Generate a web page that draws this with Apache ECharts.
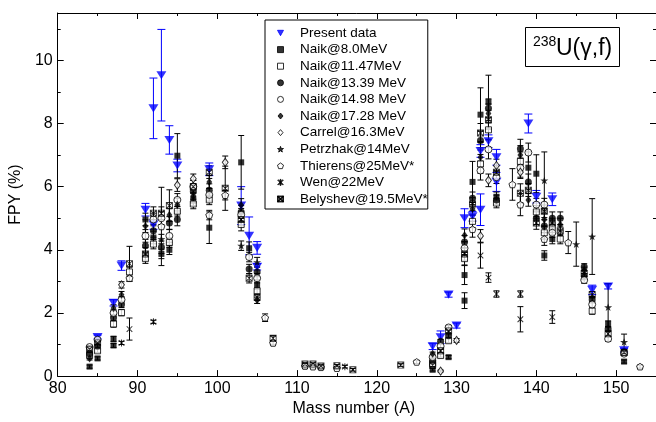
<!DOCTYPE html>
<html>
<head>
<meta charset="UTF-8">
<title>238U(γ,f) FPY</title>
<style>
  html, body { margin: 0; padding: 0; background: #fff; }
  #main { width: 656px; height: 422px; }
</style>
</head>
<body>
<div id="main"></div>
<script src="https://cdn.jsdelivr.net/npm/echarts@6/dist/echarts.min.js"></script>
<script>
// each point: [mass number, FPY %, error]
var presentData = [[85,1.24,0.06],[87,2.32,0.1],[88,3.5,0.15],[91,5.27,0.2],[92,8.48,0.96],[92,4.8,0.15],[93,9.53,1.45],
  [94,7.48,0.45],[95,6.67,0.2],[99,6.55,0.2],[103,5.4,0.6],[104,4.44,0.6],[105,4.06,0.2],[105,3.46,0.1],[127,0.94,0.1],
  [128,1.23,0.2],[129,2.58,0.08],[130,1.6,0.08],[131,5.0,0.3],[132,5.06,0.15],[133,7.13,0.2],[133,5.27,0.5],[134,7.44,0.2],
  [135,6.93,0.25],[135,6.15,0.3],[139,8.0,0.3],[140,5.68,0.2],[142,5.6,0.2],[147,2.73,0.15],[149,2.84,0.08],[151,0.82,0.06]];
var naik8 = [[84,0.3,0.05],[85,0.56,0.05],[87,1.18,0.08],[87,0.97,0.06],[91,4.96,0.2],[92,4.39,0.2],[93,3.87,0.15],[94,4.0,0.15],
  [95,6.98,0.7],[97,5.55,0.15],[99,4.7,0.5],[103,6.77,0.85],[104,4.05,0.2],[105,2.9,0.15],[127,0.2,0.04],[129,0.6,0.05],
  [131,3.2,0.3],[131,2.39,0.25],[132,6.15,0.65],[133,8.28,0.85],[134,8.68,0.85],[135,5.68,0.15],[139,6.6,0.5],[140,6.41,0.6],
  [141,3.82,0.15],[142,4.34,0.15],[146,3.15,0.1],[149,1.65,0.1],[151,0.46,0.05]];
var naik1147 = [[84,0.65,0.05],[85,0.8,0.05],[87,1.65,0.1],[88,2.01,0.1],[89,3.3,0.15],[91,3.72,0.15],[92,4.18,0.15],[94,4.23,0.15],
  [95,5.22,0.15],[97,5.45,0.15],[99,5.58,0.15],[103,4.8,0.2],[105,2.7,0.1],[127,0.4,0.04],[128,0.65,0.05],[129,1.12,0.06],
  [131,3.72,0.2],[132,4.9,0.2],[133,6.72,0.3],[134,7.8,0.3],[135,5.48,0.15],[138,6.8,0.3],[140,5.2,0.2],[141,4.54,0.2],
  [142,4.7,0.15],[143,4.34,0.15],[147,2.06,0.1]];
var naik1339 = [[84,0.71,0.05],[85,0.95,0.05],[87,1.85,0.1],[88,2.27,0.1],[91,4.13,0.2],[92,4.6,0.2],[93,4.08,0.2],[94,4.85,0.2],
  [95,4.96,0.2],[97,5.85,0.2],[99,5.89,0.2],[103,5.2,0.2],[104,3.39,0.15],[105,3.3,0.15],[127,0.5,0.04],[128,1.1,0.06],
  [129,1.28,0.06],[131,4.25,0.2],[132,5.63,0.2],[133,7.46,0.3],[134,8.48,0.3],[135,5.58,0.15],[138,7.2,0.3],[139,6.15,0.25],
  [140,5.0,0.2],[141,4.75,0.2],[142,5.0,0.2],[143,5.0,0.2],[146,3.46,0.1],[147,2.42,0.1],[149,1.49,0.08],[151,0.77,0.05]];
var naik1498 = [[84,0.92,0.05],[85,1.15,0.05],[87,2.0,0.1],[88,2.42,0.1],[91,4.44,0.2],[92,4.96,0.2],[93,5.0,0.2],[94,4.44,0.2],
  [95,5.58,0.2],[97,6.0,0.2],[99,5.74,0.2],[103,5.11,0.2],[104,3.77,0.15],[105,3.1,0.15],[127,0.6,0.04],[128,0.95,0.06],
  [129,1.54,0.06],[131,4.05,0.2],[133,6.51,0.3],[134,7.18,0.3],[135,6.3,0.2],[138,6.6,0.3],[139,7.08,0.3],[140,5.43,0.2],
  [141,5.43,0.2],[142,4.54,0.15],[146,3.04,0.1],[147,2.27,0.1],[149,1.18,0.08],[151,0.71,0.05]];
var naik1728 = [[84,0.56,0.05],[87,2.16,0.1],[88,2.58,0.1],[91,4.75,0.2],[94,5.1,0.2],[95,5.43,0.2],[97,5.7,0.2],[99,6.15,0.2],
  [103,5.42,0.2],[105,2.4,0.1],[127,0.71,0.05],[131,4.46,0.2],[132,5.3,0.2],[133,6.93,0.3],[134,8.32,0.3],[138,7.0,0.3],
  [139,5.58,0.2],[141,4.96,0.2],[143,4.8,0.2],[146,3.35,0.1]];
var carrel = [[88,2.89,0.1],[95,6.05,0.2],[97,6.25,0.15],[101,6.77,0.2],[128,0.16,0.03],[130,1.13,0.06],[133,4.44,0.2],
  [134,6.2,0.2],[135,6.67,0.2],[138,6.46,0.2]];
var petrzhak = [[93,4.34,0.15],[103,4.13,0.15],[105,3.61,0.15],[141,6.2,0.9],[145,4.18,0.7],[147,4.42,1.2],[149,2.18,0.75],[151,1.08,0.25]];
var thierens = [[89,3.1,0.1],[93,4.74,1.24],[99,5.1,0.15],[101,5.73,0.15],[106,1.85,0.12],[107,1.05,0.06],[111,0.32,0.08],
  [112,0.3,0.05],[113,0.28,0.05],[115,0.25,0.05],[125,0.45,0.05],[132,4.65,0.25],[137,6.07,0.5],[138,5.43,0.35],
  [141,4.34,0.2],[144,4.23,0.35],[153,0.3,0.05]];
var wen = [[88,1.05,0.05],[89,1.49,0.35],[92,1.72,0.05],[116,0.3,0.04],[133,3.82,0.4],[134,3.12,0.15],[135,2.6,0.1],
  [138,2.6,0.1],[138,1.8,0.4],[142,1.87,0.2]];
var belyshev = [[84,0.85,0.05],[85,1.05,0.05],[89,3.56,0.55],[91,3.87,0.2],[92,5.16,0.2],[93,5.16,0.2],[94,5.4,0.5],
  [97,6.0,0.2],[99,6.46,0.2],[101,5.95,0.7],[103,4.96,0.2],[104,3.1,0.15],[105,2.5,0.1],[107,1.2,0.08],[111,0.38,0.04],
  [112,0.38,0.04],[113,0.32,0.04],[115,0.33,0.04],[117,0.2,0.04],[123,0.35,0.04],[127,0.35,0.04],[128,0.8,0.05],
  [129,1.43,0.06],[131,3.87,0.2],[132,5.45,0.2],[133,7.7,0.3],[134,8.12,0.3],[135,6.46,0.2],[138,5.79,0.3],[139,5.89,0.2],
  [140,4.85,0.2],[141,5.22,0.2],[142,4.85,0.15],[143,4.6,0.15],[146,3.25,0.1],[147,2.58,0.1],[149,1.34,0.08],[151,0.75,0.05]];

var xMajor = [80, 90, 100, 110, 120, 130, 140, 150];
var xMinor = [85, 95, 105, 115, 125, 135, 145, 155];
var yMajor = [0, 2, 4, 6, 8, 10];
var yMinor = [1, 3, 5, 7, 9, 11];

var FONT = '"Liberation Sans", Arial, Helvetica, sans-serif';
var BLUE = '#0000ff';

// symbols
var triDown = 'path://M0,0L10,0L5,9Z';
var square = 'path://M0,0H10V10H0Z';
var rhomb = 'path://M5,0L10,6L5,12L0,6Z';
var star = 'path://M5,0L6.18,3.38L9.76,3.45L6.9,5.62L7.94,9.05L5,7L2.06,9.05L3.1,5.62L0.24,3.45L3.82,3.38Z';
var pentagon = 'path://M5,0L9.76,3.45L7.94,9.05L2.06,9.05L0.24,3.45Z';
var asterisk = 'path://M4.3,0H5.7V10H4.3Z M0.5,1.5L1.5,0.5L9.5,8.5L8.5,9.5Z M8.5,0.5L9.5,1.5L1.5,9.5L0.5,8.5Z';
var crossBox = 'path://M0,0H10V1.3H0Z M0,8.7H10V10H0Z M0,0H1.3V10H0Z M8.7,0H10V10H8.7Z ' +
  'M0.5,1.5L1.5,0.5L9.5,8.5L8.5,9.5Z M8.5,0.5L9.5,1.5L1.5,9.5L0.5,8.5Z';

function errBars(color, capW) {
  return function (params, api) {
    var x = api.value(0), y = api.value(1), e = api.value(2);
    var hi = api.coord([x, y + e]), lo = api.coord([x, y - e]);
    var h = capW / 2, st = { stroke: color, lineWidth: 1 };
    return {
      type: 'group',
      children: [
        { type: 'line', shape: { x1: hi[0], y1: hi[1], x2: lo[0], y2: lo[1] }, style: st },
        { type: 'line', shape: { x1: hi[0] - h, y1: hi[1], x2: hi[0] + h, y2: hi[1] }, style: st },
        { type: 'line', shape: { x1: lo[0] - h, y1: lo[1], x2: lo[0] + h, y2: lo[1] }, style: st }
      ]
    };
  };
}

var filled = { color: '#000', borderColor: '#000', borderWidth: 0 };
var open = { color: '#fff', borderColor: '#000', borderWidth: 1 };

var sets = [
  { name: 'Present data', data: presentData, symbol: triDown, size: [10, 9], style: { color: BLUE, borderColor: BLUE, borderWidth: 0 }, err: BLUE, cap: 8 },
  { name: 'Naik@8.0MeV', data: naik8, symbol: square, size: 6, style: filled },
  { name: 'Naik@11.47MeV', data: naik1147, symbol: square, size: 6, style: open },
  { name: 'Naik@13.39 MeV', data: naik1339, symbol: 'circle', size: 7, style: filled },
  { name: 'Naik@14.98 MeV', data: naik1498, symbol: 'circle', size: 7, style: open },
  { name: 'Naik@17.28 MeV', data: naik1728, symbol: rhomb, size: [7, 8], style: filled },
  { name: 'Carrel@16.3MeV', data: carrel, symbol: rhomb, size: [7, 8], style: open },
  { name: 'Petrzhak@14MeV', data: petrzhak, symbol: star, size: 8, style: filled },
  { name: 'Thierens@25MeV*', data: thierens, symbol: pentagon, size: 7, style: open },
  { name: 'Wen@22MeV', data: wen, symbol: asterisk, size: 7, style: filled },
  { name: 'Belyshev@19.5MeV*', data: belyshev, symbol: crossBox, size: 7, style: filled }
];

var series = [];
sets.forEach(function (s) {
  series.push({
    type: 'custom', silent: true, z: 1,
    renderItem: errBars(s.err || '#000', s.cap || 6),
    encode: { x: 0, y: 1 },
    data: s.data
  });
});
sets.forEach(function (s) {
  series.push({
    name: s.name, type: 'scatter', z: 2,
    symbol: s.symbol, symbolSize: s.size, symbolKeepAspect: true,
    itemStyle: s.style,
    data: s.data
  });
});

function xAx(pos, ticks, len, withLine, withLabels) {
  return {
    type: 'value', position: pos, min: 80, max: 155, interval: 10,
    splitLine: { show: false },
    axisLine: { show: withLine, onZero: false, lineStyle: { color: '#000', width: 1 } },
    axisTick: { show: true, inside: true, length: len, customValues: ticks, lineStyle: { color: '#000' } },
    axisLabel: { show: withLabels, customValues: xMajor, color: '#000', fontSize: 16, fontFamily: FONT, margin: 4 }
  };
}
function yAx(pos, ticks, len, withLine, withLabels) {
  return {
    type: 'value', position: pos, min: 0, max: 11.5, interval: 2,
    splitLine: { show: false },
    axisLine: { show: withLine, onZero: false, lineStyle: { color: '#000', width: 1 } },
    axisTick: { show: true, inside: true, length: len, customValues: ticks, lineStyle: { color: '#000' } },
    axisLabel: { show: withLabels, customValues: yMajor, color: '#000', fontSize: 16, fontFamily: FONT, margin: 5 }
  };
}

var xMain = xAx('bottom', xMajor, 6, true, true);
xMain.name = 'Mass number (A)';
xMain.nameLocation = 'middle';
xMain.nameGap = 20;
xMain.nameTextStyle = { color: '#000', fontSize: 16, fontFamily: FONT, padding: [0, 6, 0, 0] };
var yMain = yAx('left', yMajor, 6, true, true);
yMain.name = 'FPY (%)';
yMain.nameLocation = 'middle';
yMain.nameGap = 17;
yMain.nameTextStyle = { color: '#000', fontSize: 16, fontFamily: FONT };

var chart = echarts.init(document.getElementById('main'));
chart.setOption({
  animation: false,
  backgroundColor: '#fff',
  grid: { left: 47, top: 13, width: 613, bottom: 39 },
  xAxis: [xMain, xAx('bottom', xMinor, 3, false, false), xAx('top', xMajor, 6, true, false), xAx('top', xMinor, 3, false, false)],
  yAxis: [yMain, yAx('left', yMinor, 3, false, false), yAx('right', yMajor, 6, true, false), yAx('right', yMinor, 3, false, false)],
  legend: {
    orient: 'vertical', left: 265, top: 20,
    itemWidth: 6, itemHeight: 6, itemGap: 2.6,
    symbolKeepAspect: true,
    padding: [6, 0, 3, 12],
    borderColor: '#000', borderWidth: 1, backgroundColor: '#fff',
    itemStyle: { borderWidth: 1 },
    textStyle: { color: '#000', fontSize: 13.5, fontFamily: FONT, padding: [0, 0, 0, 11.5] },
    data: sets.map(function (s) { return s.name; })
  },
  graphic: [
    { type: 'rect', shape: { x: 525.5, y: 27.5, width: 94, height: 39 }, style: { fill: '#fff', stroke: '#000', lineWidth: 1 }, z: 10 },
    { type: 'text', x: 533, y: 35, style: { text: '238', font: '14px ' + FONT, fill: '#000', verticalAlign: 'top' }, z: 11 },
    { type: 'text', x: 556, y: 49, style: { text: 'U(γ,f)', font: '23px ' + FONT, fill: '#000', verticalAlign: 'middle' }, z: 11 }
  ],
  series: series
});
</script>
</body>
</html>
